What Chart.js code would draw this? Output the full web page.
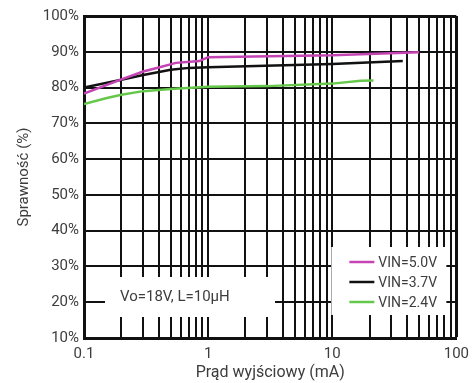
<!DOCTYPE html>
<html>
<head>
<meta charset="utf-8">
<script src="https://cdn.jsdelivr.net/npm/chart.js@4/dist/chart.umd.min.js"></script>
<style>
  html, body { margin: 0; padding: 0; background: #fff; }
  #wrap { width: 476px; height: 383px; }
</style>
</head>
<body>
<div id="wrap"><canvas id="eff" width="476" height="383"></canvas></div>
<script>
// values (x in mA, y in %)
let vin50X = [0.1, 0.2, 0.3, 0.4, 0.55, 0.85, 1.0, 10, 50];
let vin50Y = [78.3, 82.3, 84.5, 85.6, 86.9, 87.4, 88.5, 89.0, 89.9];

let vin37X = [0.1, 0.2, 0.3, 0.5, 0.7, 1.0, 10, 37];
let vin37Y = [80.0, 82.2, 83.5, 85.0, 85.5, 85.7, 86.6, 87.4];

let vin24X = [0.1, 0.15, 0.2, 0.3, 0.5, 1.0, 3, 10, 17, 21.5];
let vin24Y = [75.4, 77.0, 78.0, 79.0, 79.6, 80.2, 80.4, 81.1, 81.9, 82.0];

let seriesNames = ['VIN=5.0V', 'VIN=3.7V', 'VIN=2.4V'];
let seriesColors = ['#c444b3', '#111111', '#66c84a'];

let xMajorTicks = [0.1, 1, 10, 100];
let yTicks = [10, 20, 30, 40, 50, 60, 70, 80, 90, 100];

let noteText = 'Vo=18V, L=10\u00b5H';
let xTitle = 'Prąd wyjściowy (mA)';
let yTitle = 'Sprawność (%)';

const textColor = '#3d3d3d';
const gridColor = '#111111';

function toPoints(xs, ys) {
    return xs.map((x, i) => ({ x: x, y: ys[i] }));
}

// every log grid position: 1..9 in each decade
let xGridTicks = [];
for (let d = 0; d < xMajorTicks.length - 1; d++) {
    for (let m = 1; m <= 9; m++) xGridTicks.push(xMajorTicks[d] * m);
}
xGridTicks.push(xMajorTicks[xMajorTicks.length - 1]);

function majorLabel(v) {
    for (let i = 0; i < xMajorTicks.length; i++) {
        if (Math.abs(v - xMajorTicks[i]) < xMajorTicks[i] * 1e-6) return String(xMajorTicks[i]);
    }
    return '';
}

// white boxes with the note and the legend, drawn over the grid
const boxesPlugin = {
    id: 'boxes',
    afterDraw(chart) {
        const ctx = chart.ctx;
        const ca = chart.chartArea;
        ctx.save();

        // note box, lower left
        let nx = ca.left + 21, ny = ca.bottom - 61;
        ctx.fillStyle = '#fff';
        ctx.fillRect(nx, ny, 170, 40);
        ctx.fillStyle = textColor;
        ctx.font = '15px Roboto';
        ctx.textBaseline = 'middle';
        ctx.textAlign = 'left';
        ctx.fillText(noteText, nx + 15, ny + 20);

        // legend box, lower right
        let lx = ca.right - 125, ly = ca.bottom - 91;
        ctx.fillStyle = '#fff';
        ctx.fillRect(lx, ly, 115, 68);
        ctx.font = '14px Roboto';
        chart.data.datasets.forEach((ds, i) => {
            let rowY = ly + 15 + i * 20;
            ctx.strokeStyle = ds.borderColor;
            ctx.lineWidth = 2.5;
            ctx.beginPath();
            ctx.moveTo(lx + 18, rowY);
            ctx.lineTo(lx + 43, rowY);
            ctx.stroke();
            ctx.fillStyle = textColor;
            ctx.fillText(ds.label, lx + 47, rowY + 1);
        });
        ctx.restore();
    }
};

const ctx = document.getElementById('eff').getContext('2d');
const chart = new Chart(ctx, {
    type: 'line',
    data: {
        datasets: [
            { label: seriesNames[0], data: toPoints(vin50X, vin50Y), borderColor: seriesColors[0] },
            { label: seriesNames[1], data: toPoints(vin37X, vin37Y), borderColor: seriesColors[1] },
            { label: seriesNames[2], data: toPoints(vin24X, vin24Y), borderColor: seriesColors[2] }
        ]
    },
    options: {
        responsive: false,
        animation: false,
        layout: { padding: { top: 16, right: 16, left: 0, bottom: 0 } },
        elements: {
            line: { borderWidth: 2.5, tension: 0, fill: false },
            point: { radius: 0 }
        },
        plugins: {
            legend: { display: false },
            tooltip: { enabled: false }
        },
        scales: {
            x: {
                type: 'logarithmic',
                min: 0.1,
                max: 100,
                afterBuildTicks: (scale) => {
                    scale.ticks = xGridTicks.map(v => ({ value: v }));
                },
                afterFit: (scale) => { scale.height = 45; },
                grid: {
                    color: gridColor,
                    lineWidth: (c) => (c.tick && c.tick.value === 100 ? 3 : 2),
                    drawTicks: false
                },
                border: { color: gridColor, width: 3 },
                ticks: {
                    autoSkip: false,
                    maxRotation: 0,
                    padding: 7,
                    color: textColor,
                    font: { family: 'Roboto', size: 15 },
                    callback: (v) => majorLabel(v)
                },
                title: {
                    display: true,
                    text: xTitle,
                    color: textColor,
                    font: { family: 'Roboto', size: 16 },
                    padding: { top: 0, bottom: 0 }
                }
            },
            y: {
                min: yTicks[0],
                max: yTicks[yTicks.length - 1],
                afterBuildTicks: (scale) => {
                    scale.ticks = yTicks.map(v => ({ value: v }));
                },
                afterFit: (scale) => { scale.width = 84; },
                grid: {
                    color: gridColor,
                    lineWidth: (c) => (c.tick && c.tick.value === 100 ? 3 : 2),
                    drawTicks: false
                },
                border: { color: gridColor, width: 3 },
                ticks: {
                    padding: 5,
                    color: textColor,
                    font: { family: 'Roboto', size: 15 },
                    callback: (v) => v + '%'
                },
                title: {
                    display: true,
                    text: yTitle,
                    color: textColor,
                    font: { family: 'Roboto', size: 15 },
                    padding: { top: 15, bottom: 0 }
                }
            }
        }
    },
    plugins: [boxesPlugin]
});
</script>
</body>
</html>
